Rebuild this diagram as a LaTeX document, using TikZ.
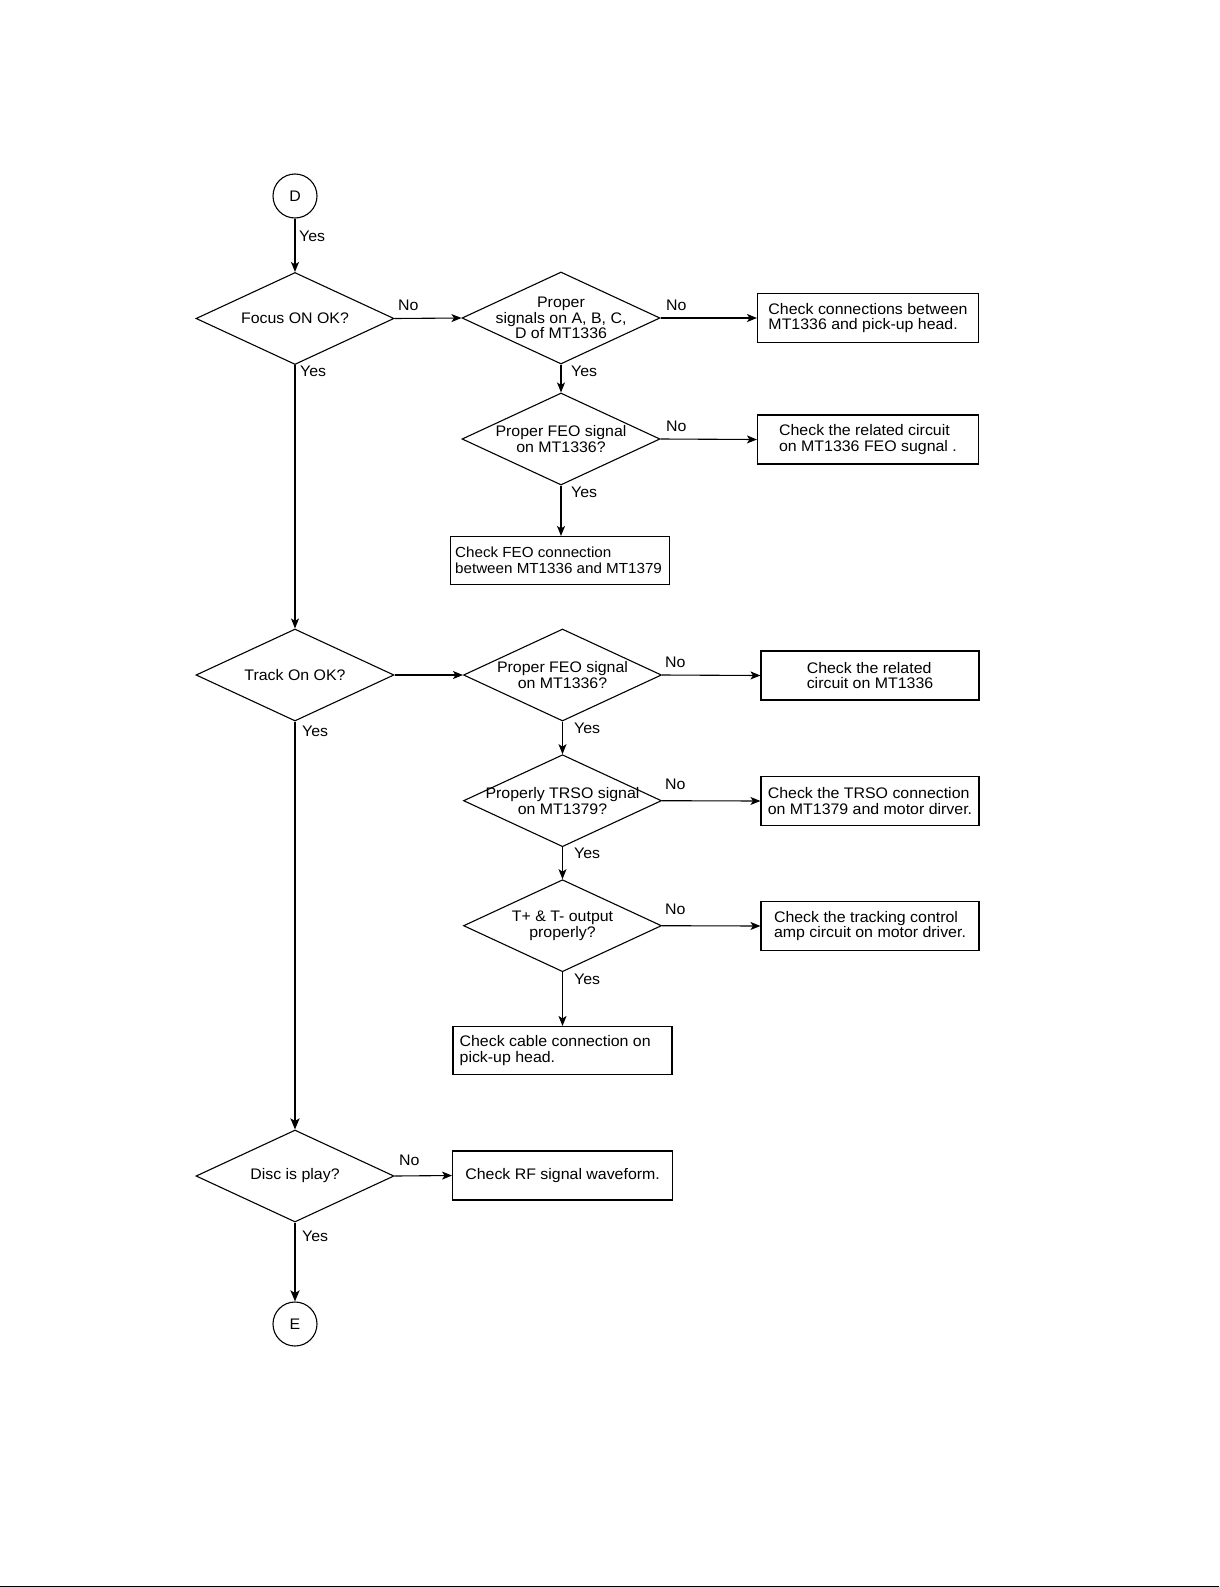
\documentclass[tikz,border=0pt]{standalone}
\usepackage{fontspec}
\setmainfont[FakeStretch=1.04]{Liberation Sans}
\usetikzlibrary{shapes.geometric,arrows.meta}
\begin{document}
\begin{tikzpicture}[x=1pt,y=-1pt,
  every node/.style={font=\fontsize{15.3}{15.7}\selectfont},
  dia/.style={draw,shape=diamond,aspect=2.15,inner sep=0pt,minimum width=198pt,minimum height=92pt,line width=1.1pt},
  dtext/.style={align=center,inner sep=0pt},
  rbox/.style={draw,rectangle,inner sep=0pt,minimum width=221pt,minimum height=49pt,align=left,line width=1.1pt},
  lbox/.style={draw,rectangle,inner sep=0pt,minimum width=219pt,minimum height=48pt,line width=1.1pt},
  term/.style={draw,circle,minimum size=44pt,inner sep=0pt,line width=1.1pt},
  lab/.style={anchor=west,inner sep=0pt},
  arr/.style={line width=1.1pt,-{Stealth[length=10pt,width=8pt,inset=2.5pt]}},
  tarr/.style={line width=2pt,-{Stealth[length=11pt,width=9pt,inset=2.5pt]}}]
\useasboundingbox (0,0) rectangle (1219,1587);
\draw[line width=1pt] (0,1586) -- (1219,1586);

% left column
\node[term] (D) at (295,196) {D};
\node[dia] (focus) at (295,318.5) {};
\node[dtext] (focust) at (focus.center) {Focus ON OK?};
\node[dia] (track) at (295,675) {};
\node[dtext] (trackt) at (track.center) {Track On OK?};
\node[dia] (disc) at (295,1176) {};
\node[dtext] (disct) at (disc.center) {Disc is play?};
\node[term] (E) at (295,1324) {E};

% middle column
\node[dia] (sig) at (561,318) {};
\node[dtext] (sigt) at (sig.center) {Proper\\signals on A, B, C,\\D of MT1336};
\node[dia] (feoa) at (561,439) {};
\node[dtext] (feoat) at (feoa.center) {Proper FEO signal\\on MT1336?};
\node[lbox] (box3) at (560,560.5) {};
\node[lab,align=left,font=\fontsize{14.6}{15.7}\selectfont] (box3t) at ([xshift=5pt]box3.west) {Check FEO connection\\between MT1336 and MT1379};

\node[dia] (feob) at (562.5,675) {};
\node[dtext] (feobt) at (feob.center) {Proper FEO signal\\on MT1336?};
\node[dia] (trso) at (562.5,800.7) {};
\node[dtext] (trsot) at (trso.center) {Properly TRSO signal\\on MT1379?};
\node[dia] (tpm) at (562.5,925.7) {};
\node[dtext] (tpmt) at (tpm.center) {T+ \& T- output\\properly?};
\node[lbox] (box7) at (562.5,1050.5) {};
\node[lab,align=left] (box7t) at ([xshift=7pt]box7.west) {Check cable connection on\\pick-up head.};
\node[lbox,minimum width=220pt,minimum height=49pt] (rf) at (562.6,1175.5) {Check RF signal waveform.};

% right column
\node[rbox] (box1) at (868,318) {Check connections between\\MT1336 and pick-up head.};
\node[rbox] (box2) at (868,439.5) {Check the related circuit\\on MT1336 FEO sugnal .};
\node[rbox,minimum width=218pt] (box4) at (870,675.5) {Check the related\\circuit on MT1336};
\node[rbox,minimum width=218pt] (box5) at (870,801) {Check the TRSO connection\\on MT1379 and motor dirver.};
\node[rbox,minimum width=218pt] (box6) at (870,926) {Check the tracking control\\amp circuit on motor driver.};

% connectors
\draw[arr] (D.south) -- (focus.north);
\node[lab] (y0) at (299,236) {Yes};
\draw[arr] (focus.east) -- (sig.west);
\node[lab] (n1) at (398,305) {No};
\draw[arr] (sig.east) -- (box1.west);
\node[lab] (n2) at (666,305) {No};
\draw[arr] (sig.south) -- (feoa.north);
\node[lab] (y2) at (571,371) {Yes};
\draw[arr] (feoa.east) -- (box2.west);
\node[lab] (n3) at (666,426) {No};
\draw[arr] (feoa.south) -- (feoa.south |- box3.north);
\node[lab] (y3) at (571,492) {Yes};
\draw[arr] (focus.south) -- (track.north);
\node[lab] (y1) at (300,371) {Yes};

\draw[arr] (track.east) -- (feob.west);
\draw[arr] (feob.east) -- (box4.west);
\node[lab] (n4) at (665,662) {No};
\draw[arr] (feob.south) -- (trso.north);
\node[lab] (y5) at (574,728) {Yes};
\draw[arr] (trso.east) -- (box5.west);
\node[lab] (n5) at (665,784) {No};
\draw[arr] (trso.south) -- (tpm.north);
\node[lab] (y6) at (574,853) {Yes};
\draw[arr] (tpm.east) -- (box6.west);
\node[lab] (n6) at (665,909) {No};
\draw[arr] (tpm.south) -- (tpm.south |- box7.north);
\node[lab] (y7) at (574,979) {Yes};

\draw[tarr] (track.south) -- (disc.north);
\node[lab] (y4) at (302,731) {Yes};
\draw[arr] (disc.east) -- (rf.west);
\node[lab] (n7) at (399,1160) {No};
\draw[tarr] (disc.south) -- (E.north);
\node[lab] (y8) at (302,1236) {Yes};
\end{tikzpicture}
\end{document}
